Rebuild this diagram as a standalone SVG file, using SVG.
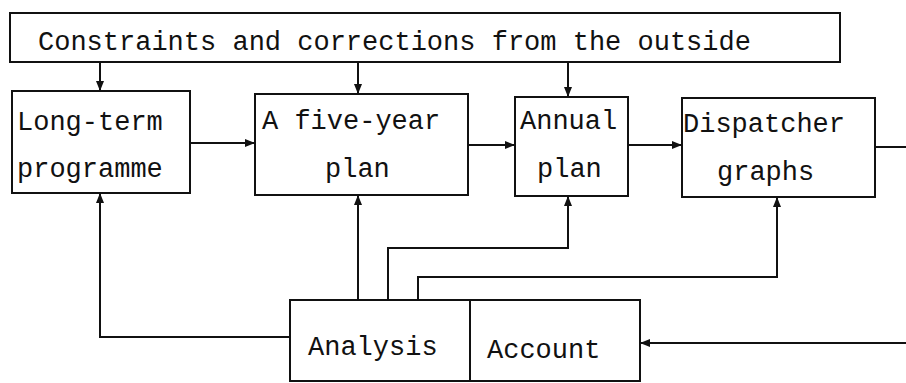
<svg xmlns="http://www.w3.org/2000/svg" width="906" height="383" viewBox="0 0 906 383">
<defs>
<style>
.box{fill:#fff;stroke:#111;stroke-width:2}
.ln{fill:none;stroke:#111;stroke-width:2}
.t{font-family:"Liberation Mono","Courier New",monospace;font-size:27px;fill:#111}
</style>
<marker id="ah" viewBox="0 0 10 8" refX="10" refY="4" markerWidth="5" markerHeight="4" markerUnits="strokeWidth" orient="auto">
<path d="M0,0 L10,4 L0,8 Z" fill="#111"/>
</marker>
</defs>
<rect width="906" height="383" fill="#fff"/>
<g id="outside">
<rect class="box" x="10" y="13" width="830" height="49"/>
<text class="t" x="38" y="50">Constraints and corrections from the outside</text>
</g>
<g id="longterm">
<rect class="box" x="12" y="91" width="178" height="102"/>
<text class="t" x="17" y="130">Long-term</text>
<text class="t" x="17" y="177">programme</text>
</g>
<g id="fiveyear">
<rect class="box" x="255" y="94" width="213" height="101"/>
<text class="t" x="262" y="129">A five-year</text>
<text class="t" x="325" y="177">plan</text>
</g>
<g id="annual">
<rect class="box" x="515" y="97" width="113" height="99"/>
<text class="t" x="520" y="129">Annual</text>
<text class="t" x="537" y="177">plan</text>
</g>
<g id="dispatcher">
<rect class="box" x="682" y="98" width="193" height="99"/>
<text class="t" x="683" y="132">Dispatcher</text>
<text class="t" x="717" y="180">graphs</text>
</g>
<g id="analysis">
<rect class="box" x="290" y="300" width="180" height="81"/>
<text class="t" x="308" y="355">Analysis</text>
</g>
<g id="account">
<rect class="box" x="470" y="300" width="170" height="81"/>
<text class="t" x="487" y="358">Account</text>
</g>
<g id="connectors">
<path class="ln" d="M100,62 V91" marker-end="url(#ah)"/>
<path class="ln" d="M358,62 V94" marker-end="url(#ah)"/>
<path class="ln" d="M568,62 V97" marker-end="url(#ah)"/>
<path class="ln" d="M190,143 H255" marker-end="url(#ah)"/>
<path class="ln" d="M468,145 H515" marker-end="url(#ah)"/>
<path class="ln" d="M628,145 H682" marker-end="url(#ah)"/>
<path class="ln" d="M875,147 H906"/>
<path class="ln" d="M290,337 H100 V193" marker-end="url(#ah)"/>
<path class="ln" d="M358,300 V195" marker-end="url(#ah)"/>
<path class="ln" d="M388,300 V248 H568 V196" marker-end="url(#ah)"/>
<path class="ln" d="M418,300 V277 H777 V197" marker-end="url(#ah)"/>
<path class="ln" d="M906,343 H640" marker-end="url(#ah)"/>
</g>
</svg>
